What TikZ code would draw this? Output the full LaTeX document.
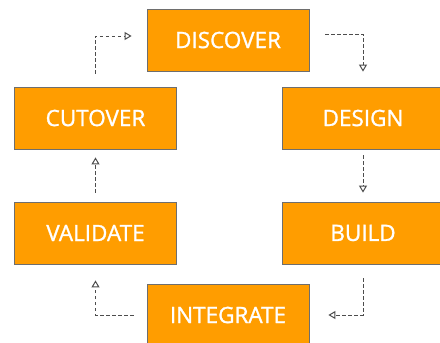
\documentclass[tikz,border=0pt]{standalone}
\usepackage{fontspec}
\setmainfont{Open Sans}
\newfontfamily\phasefont{Open Sans}[FakeBold=1.2]
\usepackage{tikz}
\usetikzlibrary{arrows.meta, positioning}

\definecolor{phaseorange}{HTML}{FF9D00}
\definecolor{phaseborder}{HTML}{6E6E6E}
\definecolor{flowgray}{HTML}{4D4D4D}

\tikzset{
  phase/.style = {draw = phaseborder, line width = 0.8pt, fill = phaseorange,
                  text = white, font = \phasefont\fontsize{22.5}{26}\selectfont,
                  minimum width = 162pt, minimum height = 62pt, inner sep = 0pt},
  flow/.style  = {draw = flowgray, line width = 1pt,
                  dash pattern = on 3.5pt off 2.5pt,
                  -{Triangle[open, length = 7pt, width = 8pt]}}
}

\begin{document}
\begin{tikzpicture} [node distance = 2.5cm, on grid]
        \useasboundingbox (0,0) rectangle (440pt,-343pt);
        \clip (0,0) rectangle (440pt,-343pt);

        \node (discover) [phase] at (228pt,-40pt) {DISCOVER};
        \node (design) [phase, below right = 78pt and 135pt of discover] {DESIGN};
        \node (cutover) [phase, below left = 78pt and 132.5pt of discover] {CUTOVER};
        \node (build) [phase, below = 115pt of design] {BUILD};
        \node (validate) [phase, below = 115pt of cutover] {VALIDATE};
        \node (integrate) [phase, below = 275pt of discover] {INTEGRATE};

        % cycle of phases
        \draw [flow] ([yshift=13pt]cutover.north) |- ([xshift=-15pt, yshift=4pt]discover.west);
        \draw [flow] ([xshift=16pt, yshift=6pt]discover.east) -| ([yshift=15pt]design.north);
        \draw [flow] ([yshift=-6pt]design.south) -- ([yshift=9pt]build.north);
        \draw [flow] ([yshift=-14pt]build.south) |- ([xshift=19pt]integrate.east);
        \draw [flow] ([xshift=-13pt]integrate.west) -| ([yshift=-16pt]validate.south);
        \draw [flow] ([yshift=9pt]validate.north) -- ([yshift=-8pt]cutover.south);
    \end{tikzpicture}
\end{document}
